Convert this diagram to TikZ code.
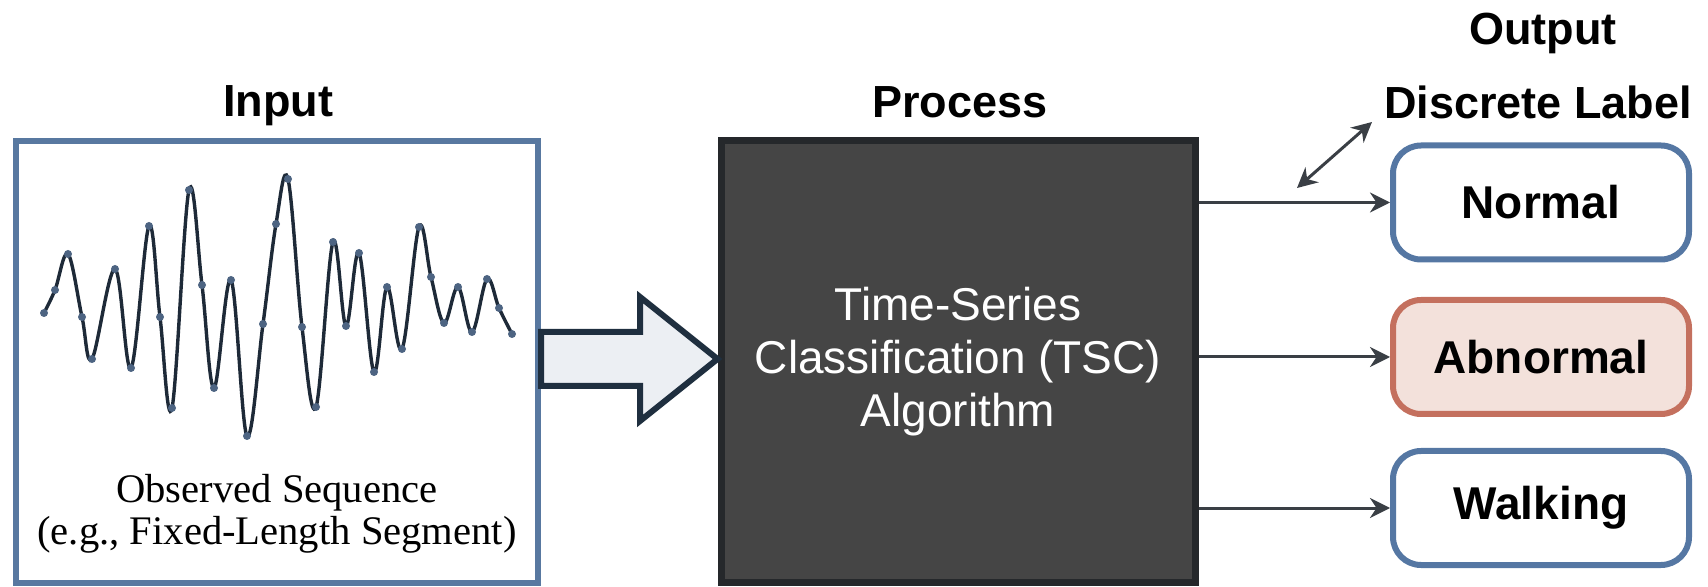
\documentclass[tikz,border=0pt]{standalone}
\usepackage{fontspec}
\setmainfont{Liberation Serif}
\setsansfont{Liberation Sans}
\usetikzlibrary{arrows.meta,positioning}

\definecolor{frameblue}{HTML}{5878A0}
\definecolor{waveink}{HTML}{1E2A38}
\definecolor{wavedot}{HTML}{4D6482}
\definecolor{arrowfill}{HTML}{ECEFF3}
\definecolor{arrowink}{HTML}{1F2F3F}
\definecolor{procfill}{HTML}{454545}
\definecolor{procink}{HTML}{25282B}
\definecolor{connink}{HTML}{3A3F45}
\definecolor{labelblue}{HTML}{5577A3}
\definecolor{labelred}{HTML}{C4705E}
\definecolor{labelpink}{HTML}{F3E1DB}

\tikzset{
  heading/.style={anchor=base, font=\sffamily\bfseries\fontsize{22.5}{26}\selectfont},
  inputbox/.style={draw=frameblue, line width=3pt, fill=white, inner sep=0pt,
    minimum width=261pt, minimum height=221pt},
  procbox/.style={draw=procink, line width=3.5pt, fill=procfill, inner sep=0pt,
    minimum width=237pt, minimum height=220.5pt, text=white, align=center,
    font=\sffamily\fontsize{23}{26.5}\selectfont},
  labelbox/.style={draw=labelblue, line width=3pt, fill=white, rounded corners=14pt,
    inner sep=0pt, minimum width=148pt, minimum height=57pt,
    font=\sffamily\bfseries\fontsize{23}{26}\selectfont},
  conn/.style={draw=connink, line width=1.5pt, -{Stealth[length=10pt, width=10pt]}},
  wave/.style={draw=waveink, line width=1.7pt},
  bigarrow/.style={draw=arrowink, fill=arrowfill, line width=3pt, line join=miter}
}

\begin{document}
\begin{tikzpicture}[x=0.5pt, y=-0.5pt]
\useasboundingbox (0,0) rectangle (1708,587);

% headings
\node[heading] (hin) at (278,117) {Input};
\node[heading] (hproc) at (960,118) {Process};
\node[heading] (hout) at (1543,45) {Output};
\node[heading] (hlab) at (1538,119) {Discrete Label};

% input panel
\node[inputbox] (inbox) at (277,362) {};
\node[align=center, font=\fontsize{20.3}{20.8}\selectfont] (caption) at (277,514)
  {Observed Sequence\\(e.g., Fixed-Length Segment)};

% the sampled signal
\draw[wave] plot[smooth, tension=0.6] coordinates {
  (44,313) (55,290) (68,254) (82,317) (92,359) (115,269) (131,368) (149,226)
  (160,317) (172,408) (189,190) (202,285) (214,388) (231,280) (247,436)
  (263,324) (276,224) (288,179) (302,327) (316,407) (333,242) (346,326)
  (359,253) (374,372) (387,287) (402,349) (419,227) (431,277) (444,323)
  (458,287) (472,332) (487,279) (499,308) (512,334)};
\foreach \x/\y in {44/313, 55/290, 68/254, 82/317, 92/359, 115/269, 131/368,
  149/226, 160/317, 172/408, 189/190, 202/285, 214/388, 231/280, 247/436,
  263/324, 276/224, 288/179, 302/327, 316/407, 333/242, 346/326, 359/253,
  374/372, 387/287, 402/349, 419/227, 431/277, 444/323, 458/287, 472/332,
  487/279, 499/308, 512/334}
  \fill[wavedot] (\x,\y) circle (4);

% classifier
\node[procbox] (tsc) at (958,361.5) {Time-Series\\Classification (TSC)\\Algorithm};

% block arrow into the classifier
\draw[bigarrow] (inbox.east |- 0,332) -- (640,332) -- (640,297)
  -- (tsc.west |- 0,359) -- (640,421) -- (640,386) -- (inbox.east |- 0,386) -- cycle;

% class labels
\node[labelbox] (normal) at (1541,202.5) {Normal};
\node[labelbox, draw=labelred, fill=labelpink] (abnormal) at (1541,357) {Abnormal};
\node[labelbox] (walking) at (1541,508) {Walking};

\foreach \c in {normal, abnormal, walking}
  \draw[conn] (tsc.east |- \c.west) -- (\c.west);

% two-headed pointer next to the label heading
\coordinate (pa) at (1297,188);
\coordinate (pb) at (1372,122);
\draw[conn, {Stealth[length=10pt, width=10pt]}-{Stealth[length=10pt, width=10pt]}] (pa) -- (pb);

\end{tikzpicture}
\end{document}
